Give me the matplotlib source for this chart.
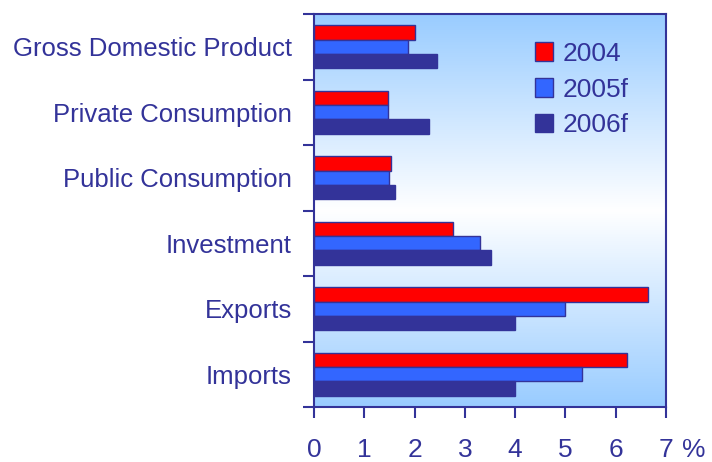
import numpy as np
import matplotlib
matplotlib.use("Agg")
import matplotlib.pyplot as plt
from matplotlib.colors import LinearSegmentedColormap

categories = ["Gross Domestic Product", "Private Consumption", "Public Consumption",
              "Investment", "Exports", "Imports"]
series_names = ["2004", "2005f", "2006f"]
v2004 = [2.0, 1.48, 1.54, 2.76, 6.65, 6.22]
v2005f = [1.86, 1.48, 1.49, 3.3, 5.0, 5.32]
v2006f = [2.45, 2.29, 1.61, 3.52, 4.0, 4.0]
x_ticks = [0, 1, 2, 3, 4, 5, 6, 7]

navy = "#333399"
colors = ["#FF0000", "#3366FF", "#333399"]
plt.rcParams['font.family'] = ['Liberation Sans', 'DejaVu Sans']

fig = plt.figure(figsize=(7.12, 4.62), dpi=100)
ax = fig.add_axes([314/712, 1-407/462, (666-314)/712, (407-14)/462])

# gradient background
cmap = LinearSegmentedColormap.from_list("bg", ["#99CCFF", "#FFFFFF", "#99CCFF"])
grad = np.linspace(0, 1, 256).reshape(-1, 1)
ax.imshow(grad, cmap=cmap, aspect='auto', extent=[0, 1, 0, 1],
          transform=ax.transAxes, zorder=0)

y = np.arange(len(categories))
h = 0.22
for k, (vals, c, name) in enumerate(zip([v2004, v2005f, v2006f], colors, series_names)):
    ax.barh(y + (k - 1) * h, vals, height=h, color=c, edgecolor=navy,
            linewidth=1.0, label=name, zorder=2)

ax.set_xlim(0, 7)
ax.set_ylim(len(categories) - 0.5, -0.5)
ax.set_xticks(x_ticks)
ax.set_xticklabels([str(t) for t in x_ticks])
ax.set_yticks(y)
ax.set_yticklabels(categories)
ax.set_yticks(np.arange(len(categories) + 1) - 0.5, minor=True)
ax.tick_params(axis='y', which='major', length=0, pad=16, labelsize=18.5, labelcolor=navy)
ax.tick_params(axis='y', which='minor', length=8, width=1.5, color=navy, direction='out')
ax.tick_params(axis='x', which='major', length=8, width=1.5, color=navy, direction='out',
               pad=14, labelsize=19, labelcolor=navy)
for s in ax.spines.values():
    s.set_color(navy)
    s.set_linewidth(1.5)

ax.text(1.045, -0.11, "%", transform=ax.transAxes, fontsize=19, color=navy,
        ha='left', va='center')

leg = ax.legend(loc='upper left', bbox_to_anchor=(0.56, 0.99), frameon=False,
                fontsize=19, handlelength=0.7, handleheight=0.7, handletextpad=0.35,
                labelspacing=0.45, labelcolor=navy)

fig.savefig("out.png", dpi=100)
